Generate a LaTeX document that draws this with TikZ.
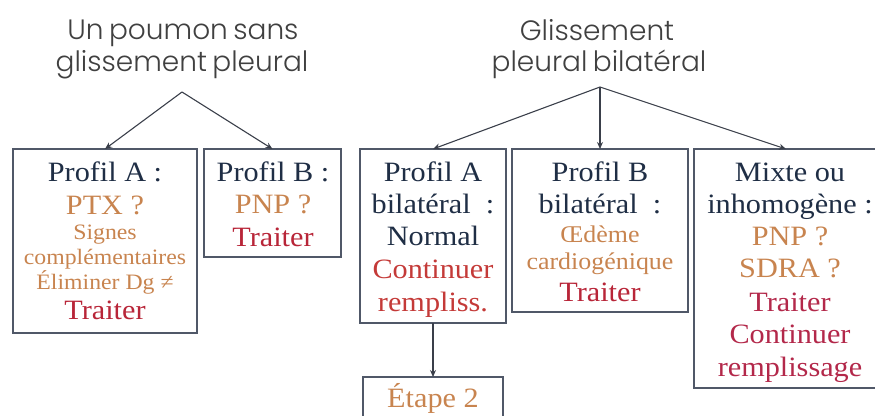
\documentclass[tikz,border=0pt]{standalone}
\usepackage{fontspec}
\setmainfont{Liberation Serif}[FakeStretch=1.08]
\newfontfamily\titlefont{Poppins Light}[WordSpace=0.7]
\usetikzlibrary{arrows.meta}
\definecolor{navy}{HTML}{1F2E45}
\definecolor{ora}{HTML}{C8844F}
\definecolor{redd}{HTML}{B82538}
\definecolor{redo}{HTML}{C43A38}
\definecolor{pinkr}{HTML}{B3284A}
\definecolor{boxc}{HTML}{505868}
\definecolor{arrc}{HTML}{3A3F4A}
\definecolor{titc}{HTML}{404040}
\tikzset{
  box/.style={draw=boxc, line width=1.4pt, inner sep=0pt, outer sep=0pt, anchor=north west},
  big/.style={font=\fontsize{28}{32}\selectfont, inner sep=0pt, text height=19pt, text depth=0pt},
  small/.style={font=\fontsize{22}{25}\selectfont, inner sep=0pt, text height=15pt, text depth=0pt},
  mid/.style={font=\fontsize{24}{27}\selectfont, inner sep=0pt, text height=16pt, text depth=0pt},
  ttl/.style={font=\titlefont\fontsize{28}{32}\selectfont, text=titc, inner sep=0pt},
  arr/.style={draw=arrc, line width=1.1pt, -{Stealth[length=7pt,width=6pt]}},
}
\begin{document}
\begin{tikzpicture}[x=1pt,y=-1pt]
\useasboundingbox (0,0) rectangle (875,415);
% titles
\node[ttl] (t1a) at (183,33) {Un poumon sans};
\node[ttl] (t1b) at (182,65) {glissement pleural};
\node[ttl] (t2a) at (597,30) {Glissement};
\node[ttl] (t2b) at (599,64) {pleural bilatéral};
\coordinate (apl) at (182,92);
\coordinate (apr) at (600,87);
% boxes
\node[box, minimum width=184pt, minimum height=184pt] (pa) at (13,149) {};
\node[box, minimum width=137pt, minimum height=108pt] (pb) at (204,149) {};
\node[box, minimum width=146pt, minimum height=174pt] (ra) at (360,149) {};
\node[box, minimum width=176pt, minimum height=163pt] (rb) at (512,149) {};
\node[box, minimum width=184pt, minimum height=239pt] (rc) at (694,149) {};
\node[box, minimum width=140pt, minimum height=60pt] (et) at (363,377) {};
% connectors
\draw[arr] (apl) -- (pa.north);
\draw[arr] (apl) -- (pb.north);
\draw[arr] (apr) -- (ra.north);
\draw[arr] (apr) -- (rb.north);
\draw[arr] (apr) -- (rc.north);
\draw[arr] (ra.south) -- (et.north);
% box pa text
\node[big, text=navy] (pa1) at (105,172) {Profil A :};
\node[big, text=ora] (pa2) at (105,205) {PTX ?};
\node[small, text=ora] (pa3) at (105,232) {Signes};
\node[small, text=ora] (pa4) at (105,257) {complémentaires};
\node[small, text=ora] (pa5) at (105,282) {Éliminer Dg ≠};
\node[big, text=redd] (pa6) at (105,310) {Traiter};
% box pb text
\node[big, text=navy] (pb1) at (273,172) {Profil B :};
\node[big, text=ora] (pb2) at (273,204) {PNP ?};
\node[big, text=redd] (pb3) at (273,237) {Traiter};
% box ra text
\node[big, text=navy] (ra1) at (433,172) {Profil A};
\node[big, text=navy] (ra2) at (433,204) {bilatéral\ \ :};
\node[big, text=navy] (ra3) at (433,236) {Normal};
\node[big, text=redo] (ra4) at (433,269) {Continuer};
\node[big, text=redo] (ra5) at (433,302) {rempliss.};
% box rb text
\node[big, text=navy] (rb1) at (600,172) {Profil B};
\node[big, text=navy] (rb2) at (600,204) {bilatéral\ \ :};
\node[mid, text=ora] (rb3) at (600,234) {Œdème};
\node[mid, text=ora] (rb4) at (600,261) {cardiogénique};
\node[big, text=redd] (rb5) at (600,292) {Traiter};
% box rc text
\node[big, text=navy] (rc1) at (790,172) {Mixte ou};
\node[big, text=navy] (rc2) at (790,204) {inhomogène :};
\node[big, text=ora] (rc3) at (790,236) {PNP ?};
\node[big, text=ora] (rc4) at (790,268) {SDRA ?};
\node[big, text=pinkr] (rc5) at (790,302) {Traiter};
\node[big, text=pinkr] (rc6) at (790,334) {Continuer};
\node[big, text=pinkr] (rc7) at (790,367) {remplissage};
% etape
\node[big, text=ora] (et1) at (433,398) {Étape 2};
\end{tikzpicture}
\end{document}
